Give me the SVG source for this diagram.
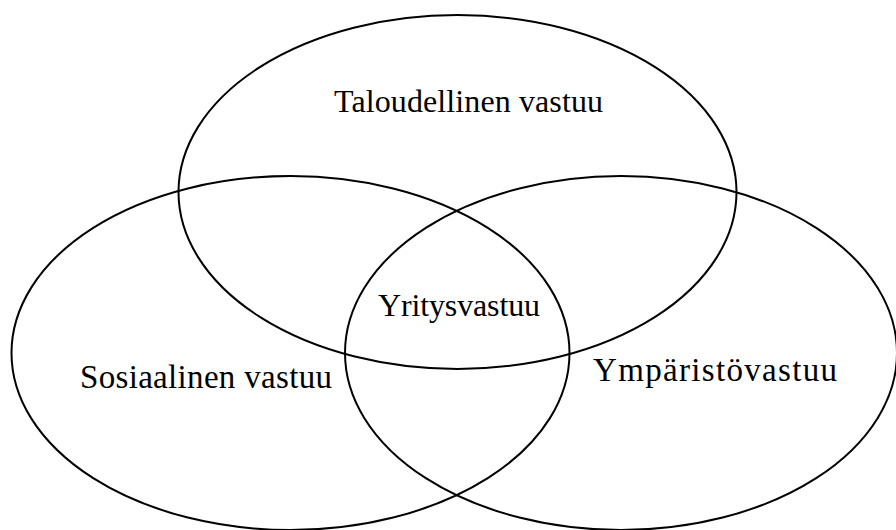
<svg xmlns="http://www.w3.org/2000/svg" width="896" height="530" viewBox="0 0 896 530">
<style>
.c{fill:none;stroke:#000;stroke-width:2}
.t{font-family:"Liberation Serif","Times New Roman",serif;font-size:32px;fill:#000}
.b{font-size:33px}
</style>
<rect width="896" height="530" fill="#fff"/>
<g id="taloudellinen">
<ellipse class="c" cx="457.5" cy="192" rx="279" ry="177"/>
<text class="t" x="334" y="112" textLength="269" lengthAdjust="spacing">Taloudellinen vastuu</text>
</g>
<g id="sosiaalinen">
<ellipse class="c" cx="290.5" cy="353" rx="279" ry="177"/>
<text class="t b" x="80" y="388" textLength="252" lengthAdjust="spacing">Sosiaalinen vastuu</text>
</g>
<g id="ymparisto">
<ellipse class="c" cx="621" cy="353" rx="276" ry="177"/>
<text class="t b" x="593" y="381" textLength="244" lengthAdjust="spacing">Ympäristövastuu</text>
</g>
<g id="yritysvastuu">
<text class="t" x="378" y="316" textLength="162" lengthAdjust="spacing">Yritysvastuu</text>
</g>
<g id="connectors"/>
</svg>
